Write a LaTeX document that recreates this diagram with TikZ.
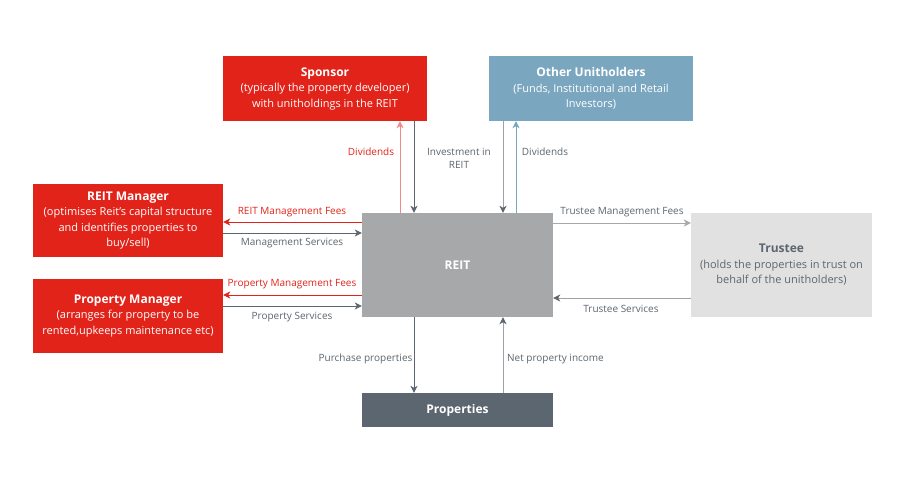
\documentclass[tikz,border=0pt]{standalone}
\usepackage{fontspec}
\setmainfont{Open Sans}
\usetikzlibrary{arrows.meta}
\definecolor{cred}{HTML}{E2231A}
\definecolor{cpink}{HTML}{F08A8A}
\definecolor{cblue}{HTML}{7AA7BF}
\definecolor{cgray}{HTML}{A7A8AA}
\definecolor{clight}{HTML}{E1E1E1}
\definecolor{cdark}{HTML}{5C6670}
\definecolor{cmid}{HTML}{9EA2A6}
\tikzset{
  box/.style={rectangle, inner sep=0pt, align=center, font=\fontsize{11}{15.5}\selectfont},
  lbl/.style={font=\fontsize{10}{13.5}\selectfont, text=cdark, inner sep=1pt, align=center},
  conn/.style={line width=1pt, -{Stealth[length=7pt,width=7pt,inset=2pt]}},
  conndk/.style={line width=1pt, -{Stealth[length=7pt,width=7pt,inset=2pt,color=cdark]}},
}
\newcommand{\ttlfont}{\fontsize{12}{15.5}\selectfont\bfseries}
\begin{document}
\begin{tikzpicture}[x=1pt,y=-1pt]
\useasboundingbox[fill=white] (0,0) rectangle (904,480);
% boxes
\node[box, fill=cred, text=white, minimum width=204pt, minimum height=65pt] (sp) at (325,88.5)
  {{\ttlfont Sponsor}\\(typically the property developer)\\with unitholdings in the REIT};
\node[box, fill=cblue, text=white, minimum width=204pt, minimum height=65pt] (ou) at (591,88.5)
  {{\ttlfont Other Unitholders}\\(Funds, Institutional and Retail\\Investors)};
\node[box, fill=cgray, text=white, minimum width=191pt, minimum height=104pt] (reit) at (457.5,265)
  {{\ttlfont REIT}};
\node[box, fill=cred, text=white, minimum width=190pt, minimum height=73pt] (rm) at (128,220.5)
  {{\ttlfont REIT Manager}\\(optimises Reit's capital structure\\and identifies properties to\\buy/sell)};
\node[box, fill=cred, text=white, minimum width=190pt, minimum height=74pt] (pm) at (128,316)
  {{\ttlfont Property Manager}\\(arranges for property to be\\rented,upkeeps maintenance etc)};
\node[box, fill=clight, text=cdark, minimum width=181pt, minimum height=104pt] (tr) at (781.5,265)
  {{\ttlfont Trustee}\\(holds the properties in trust on\\behalf of the unitholders)};
\node[box, fill=cdark, text=white, minimum width=191pt, minimum height=34pt] (pr) at (457.5,410)
  {{\ttlfont Properties}};
% vertical connectors top
\coordinate (v1) at ([xshift=-57.5pt]reit.north);
\coordinate (v2) at ([xshift=-43.5pt]reit.north);
\coordinate (v3) at ([xshift=45.5pt]reit.north);
\coordinate (v4) at ([xshift=58.5pt]reit.north);
\draw[conn, cpink] (v1) -- (v1 |- sp.south);
\draw[conn, cdark] (v2 |- sp.south) -- (v2);
\draw[conndk, cmid] (v3 |- ou.south) -- (v3);
\draw[conn, cblue] (v4) -- (v4 |- ou.south);
\node[lbl, text=cred] (l1) at (371,152) {Dividends};
\node[lbl] (l2) at (459,158.5) {Investment in\\REIT};
\node[lbl] (l3) at (545,152) {Dividends};
% horizontal connectors left
\coordinate (h1) at ([yshift=43pt]reit.west);
\coordinate (h2) at ([yshift=32pt]reit.west);
\coordinate (h3) at ([yshift=-30pt]reit.west);
\coordinate (h4) at ([yshift=-41pt]reit.west);
\draw[conn, cred] (h1) -- (h1 -| rm.east);
\draw[conn, cdark] (h2 -| rm.east) -- (h2);
\draw[conn, cred] (h3) -- (h3 -| pm.east);
\draw[conn, cdark] (h4 -| pm.east) -- (h4);
\node[lbl, text=cred] (l4) at (292,212) {REIT Management Fees};
\node[lbl] (l5) at (292,243) {Management Services};
\node[lbl, text=cred] (l6) at (292,284.5) {Property Management Fees};
\node[lbl] (l7) at (292,317) {Property Services};
% horizontal connectors right
\coordinate (h5) at ([yshift=42pt]reit.east);
\coordinate (h6) at ([yshift=-33pt]reit.east);
\draw[conn, cgray] (h5) -- (h5 -| tr.west);
\draw[conndk, cmid] (h6 -| tr.west) -- (h6);
\node[lbl] (l8) at (622,212) {Trustee Management Fees};
\node[lbl] (l9) at (621,308.5) {Trustee Services};
% bottom connectors
\coordinate (b1) at ([xshift=-43.5pt]reit.south);
\coordinate (b2) at ([xshift=45.5pt]reit.south);
\draw[conn, cdark] (b1) -- (b1 |- pr.north);
\draw[conndk, cmid] (b2 |- pr.north) -- (b2);
\node[lbl] (l10) at (365.5,359) {Purchase properties};
\node[lbl] (l11) at (555.5,359) {Net property income};
\end{tikzpicture}
\end{document}
